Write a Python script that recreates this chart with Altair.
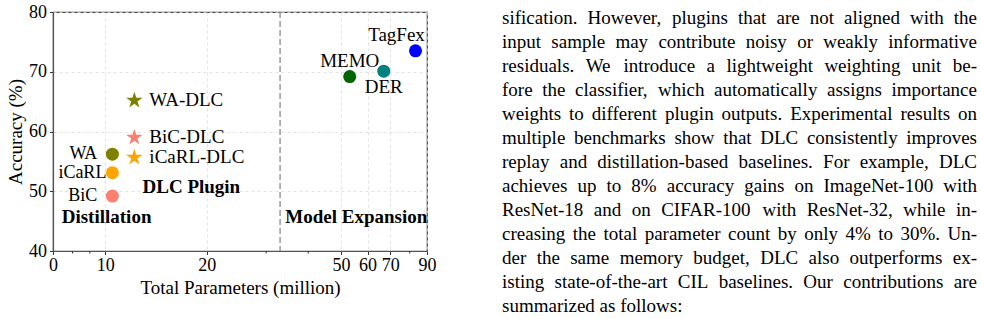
import altair as alt
import pandas as pd

# ---- data ----
names = ["BiC", "iCaRL", "WA", "BiC-DLC", "iCaRL-DLC", "WA-DLC", "MEMO", "DER", "TagFex"]
params = [10.5, 10.5, 10.5, 12.2, 12.2, 12.2, 53.1, 67.0, 83.2]
accuracy = [49.2, 53.1, 56.2, 59.0, 55.65, 65.2, 69.2, 70.1, 73.5]
kinds = ["circle", "circle", "circle", "star", "star", "star", "circle", "circle", "circle"]
colors = ["#FA8072", "#FFA500", "#808000", "#FA8072", "#FFA500", "#808000", "#006400", "#008080", "#0000FF"]

x_ticks = [7, 10, 20, 50, 60, 70, 90]
x_minor = [8, 9, 30, 40, 80]
y_ticks = [40, 50, 60, 70, 80]
divider_x = [33]

ann_text = ["DLC Plugin", "Distillation", "Model Expansion"]
ann_x = [12.9, 7.43, 34.2]
ann_y = [50.7, 45.7, 45.7]

body_lines = [
    "sification.  However, plugins that are not aligned with the",
    "input sample may contribute noisy or weakly informative",
    "residuals.  We introduce a lightweight weighting unit be-",
    "fore the classifier, which automatically assigns importance",
    "weights to different plugin outputs. Experimental results on",
    "multiple benchmarks show that DLC consistently improves",
    "replay and distillation-based baselines.  For example, DLC",
    "achieves up to 8% accuracy gains on ImageNet-100 with",
    "ResNet-18 and on CIFAR-100 with ResNet-32, while in-",
    "creasing the total parameter count by only 4% to 30%. Un-",
    "der the same memory budget, DLC also outperforms ex-",
    "isting state-of-the-art CIL baselines.  Our contributions are",
    "summarized as follows:",
]

FONT = "Liberation Serif"
BODY_SIZE = 19
LABEL_SIZE = 19
LINE_W = 475  # justified column width in px

# Times (Liberation Serif) advance widths, 1/1000 em, for justified layout
_w = {" ": 250, "!": 333, "%": 833, "(": 333, ")": 333, ",": 250, "-": 333, ".": 250,
      ":": 278, ";": 278, "'": 333}
for c in "0123456789":
    _w[c] = 500
_w.update(dict(zip("ABCDEFGHIJKLMNOPQRSTUVWXYZ",
                   [722, 667, 667, 722, 611, 556, 722, 722, 333, 389, 722, 611, 889,
                    722, 722, 556, 722, 667, 556, 611, 722, 722, 944, 722, 722, 611])))
_w.update(dict(zip("abcdefghijklmnopqrstuvwxyz",
                   [444, 500, 444, 500, 444, 333, 500, 500, 278, 278, 500, 278, 778,
                    500, 500, 500, 500, 333, 389, 278, 500, 500, 722, 500, 500, 444])))


def text_width(s):
    return sum(_w.get(c, 500) for c in s) * BODY_SIZE / 1000.0


rows = []
for li, line in enumerate(body_lines):
    words = line.split()
    widths = [text_width(w) for w in words]
    last = li == len(body_lines) - 1
    gap = text_width(" ") if last or len(words) < 2 else (LINE_W - sum(widths)) / (len(words) - 1)
    pos = 0.0
    for w, wd in zip(words, widths):
        rows.append({"i": li, "word": w, "wx": pos})
        pos += wd + gap

# ---- tables ----
pts = pd.DataFrame({"name": names, "params": params, "acc": accuracy, "kind": kinds})
ann = pd.DataFrame({"text": ann_text, "params": ann_x, "acc": ann_y})
body = pd.DataFrame(rows)
minor = pd.DataFrame({"params": x_minor})
div = pd.DataFrame({"params": divider_x})

W, H = 374, 239
STAR = ("M0,-1L0.225,-0.309L0.951,-0.309L0.363,0.118L0.588,0.809L0,0.382"
        "L-0.588,0.809L-0.363,0.118L-0.951,-0.309L-0.225,-0.309Z")

xscale = alt.Scale(type="log", domain=[7, 90], nice=False)
yscale = alt.Scale(domain=[40, 80], nice=False)

X = alt.X("params:Q", scale=xscale,
          axis=alt.Axis(values=x_ticks, title="Total Parameters (million)",
                        labelExpr="datum.value == 7 ? '0' : format(datum.value, 'd')",
                        grid=True, orient="bottom", labelFlush=False))
Y = alt.Y("acc:Q", scale=yscale,
          axis=alt.Axis(values=y_ticks, title="Accuracy (%)", grid=True, orient="left",
                        labelFlush=False))

color = alt.Color("name:N", scale=alt.Scale(domain=names, range=colors), legend=None)
shape = alt.Shape("kind:N", scale=alt.Scale(domain=["circle", "star"], range=["circle", STAR]), legend=None)

base = alt.Chart(pts)

points_c = base.transform_filter(alt.datum.kind == "circle").mark_point(
    filled=True, opacity=1, size=169).encode(x=X, y=Y, color=color, shape=shape)
points_s = base.transform_filter(alt.datum.kind == "star").mark_point(
    filled=True, opacity=1, size=300).encode(x=X, y=Y, color=color, shape=shape)


def lab(names_sel, size=LABEL_SIZE, **kw):
    return base.transform_filter(
        alt.FieldOneOfPredicate(field="name", oneOf=names_sel)
    ).mark_text(font=FONT, fontSize=size, color="black", baseline="middle", **kw).encode(
        x=X, y=Y, text="name:N")


lab_right = lab(["WA-DLC", "BiC-DLC", "iCaRL-DLC"], align="left", dx=15)
lab_left = lab(["WA", "BiC"], size=18, align="right", dx=-15)
lab_icarl = lab(["iCaRL"], size=18, align="right", dx=-6)
lab_above = lab(["MEMO"], align="center", dy=-16)
lab_below = lab(["DER"], align="center", dy=16)
lab_tag = lab(["TagFex"], align="center", dx=-19, dy=-16)

annot = alt.Chart(ann).mark_text(font=FONT, fontSize=LABEL_SIZE, fontWeight="bold", color="black",
                                 align="left", baseline="middle").encode(
    x=X, y=Y, text="text:N")

divider = alt.Chart(div).mark_rule(color="#9a9a9a", strokeDash=[6, 3], strokeWidth=1.5).encode(
    x=X, y=alt.value(0), y2=alt.value(H))

minor_ticks = alt.Chart(minor).mark_rule(color="#333", strokeWidth=1).encode(
    x=X, y=alt.value(H), y2=alt.value(H + 2.5))

plot = alt.layer(points_c, divider, minor_ticks, points_s,
                 lab_right, lab_left, lab_icarl, lab_above, lab_below, lab_tag, annot)

text_block = alt.Chart(body).mark_text(font=FONT, fontSize=BODY_SIZE, color="black",
                                       align="left", baseline="middle").encode(
    x=alt.X("wx:Q", scale=alt.Scale(domain=[0, LINE_W], range=[449, 449 + LINE_W]), axis=None),
    y=alt.Y("i:Q", scale=alt.Scale(domain=[0, 12], range=[6, 294]), axis=None),
    text="word:N")

chart = alt.layer(plot, text_block).resolve_scale(x="independent", y="independent").properties(
    width=W, height=H,
    autosize=alt.AutoSizeParams(type="none"),
    padding={"left": 53, "top": 12, "right": 981 - 53 - W, "bottom": 319 - 12 - H},
    background="white",
).configure_axis(
    labelFont=FONT, titleFont=FONT, labelFontSize=18, titleFontSize=19,
    labelColor="black", titleColor="black", titleFontWeight="normal",
    domainColor="#555", domainWidth=1.2, tickColor="#333", tickSize=3.5,
    gridColor="#dcdcdc", gridDash=[3, 3], gridWidth=0.8,
).configure_axisX(labelPadding=2, titlePadding=4).configure_axisY(
    labelPadding=3, titlePadding=3
).configure_view(stroke="#444", strokeWidth=1.2)

chart.save("out.html", embed_options={"renderer": "svg", "actions": False})
